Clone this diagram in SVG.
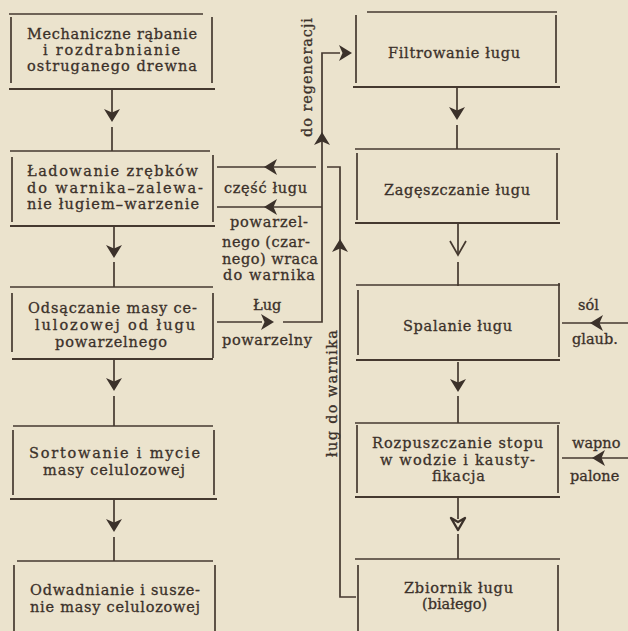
<svg xmlns="http://www.w3.org/2000/svg" xmlns:xlink="http://www.w3.org/1999/xlink" width="628" height="631" viewBox="0 0 628 631">
<style>
  .bg{fill:#ebe3cd}
  .ln{stroke:#45392f;stroke-width:1.7;fill:none;stroke-linecap:butt}
  .hl{stroke:#45392f;stroke-width:2;fill:none}
  .t{font-family:"DejaVu Serif","Liberation Serif",serif;font-size:14.5px;fill:#3b312a;stroke:#3b312a;stroke-width:0.3}
  .ah{fill:#3b312a}
</style>
<defs>
  <path id="ah" d="M0,0 L-8,-13 L0,-9.5 L8,-13 Z"/>
</defs>
<rect class="bg" x="0" y="0" width="628" height="631"/>

<g id="box1">
  <line class="ln" x1="9" y1="14" x2="203" y2="14"/>
  <line class="ln" x1="11" y1="17" x2="11" y2="83"/>
  <line class="ln" x1="212" y1="17" x2="212" y2="83"/>
  <line class="hl" x1="9" y1="89" x2="215" y2="89"/>
  <text class="t" x="27" y="39" textLength="170" lengthAdjust="spacing">Mechaniczne rąbanie</text>
  <text class="t" x="43" y="55" textLength="137" lengthAdjust="spacing">i rozdrabnianie</text>
  <text class="t" x="27" y="71" textLength="170" lengthAdjust="spacing">ostruganego drewna</text>
</g>

<g id="box2">
  <line class="ln" x1="10" y1="151" x2="210" y2="151"/>
  <line class="ln" x1="12" y1="157" x2="12" y2="222"/>
  <line class="ln" x1="213" y1="155" x2="213" y2="222"/>
  <line class="hl" x1="10" y1="226" x2="215" y2="226"/>
  <text class="t" x="27" y="176" textLength="171" lengthAdjust="spacing">Ładowanie zrębków</text>
  <text class="t" x="27" y="193" textLength="176" lengthAdjust="spacing">do warnika–zalewa-</text>
  <text class="t" x="27" y="209" textLength="172" lengthAdjust="spacing">nie ługiem–warzenie</text>
</g>

<g id="box3">
  <line class="ln" x1="10" y1="287" x2="213" y2="287"/>
  <line class="ln" x1="12" y1="293" x2="12" y2="352"/>
  <line class="ln" x1="213" y1="293" x2="213" y2="358"/>
  <line class="hl" x1="12" y1="359" x2="213" y2="359"/>
  <text class="t" x="28" y="313" textLength="169" lengthAdjust="spacing">Odsączanie masy ce-</text>
  <text class="t" x="35" y="330" textLength="160" lengthAdjust="spacing">lulozowej od ługu</text>
  <text class="t" x="55" y="347" textLength="112" lengthAdjust="spacing">powarzelnego</text>
</g>

<g id="box4">
  <line class="ln" x1="13" y1="426" x2="213" y2="426"/>
  <line class="ln" x1="13" y1="430" x2="13" y2="495"/>
  <line class="ln" x1="214" y1="430" x2="214" y2="495"/>
  <line class="hl" x1="10" y1="499" x2="217" y2="499"/>
  <text class="t" x="29" y="458" textLength="171" lengthAdjust="spacing">Sortowanie i mycie</text>
  <text class="t" x="43" y="475" textLength="142" lengthAdjust="spacing">masy celulozowej</text>
</g>

<g id="box5">
  <line class="ln" x1="17" y1="561" x2="213" y2="561"/>
  <line class="ln" x1="14" y1="565" x2="14" y2="631"/>
  <line class="ln" x1="215" y1="565" x2="215" y2="631"/>
  <text class="t" x="30" y="595" textLength="170" lengthAdjust="spacing">Odwadnianie i susze-</text>
  <text class="t" x="30" y="612" textLength="170" lengthAdjust="spacing">nie masy celulozowej</text>
</g>

<g id="boxA">
  <line class="ln" x1="367" y1="12" x2="557" y2="12"/>
  <line class="ln" x1="356" y1="15" x2="356" y2="83"/>
  <line class="ln" x1="556" y1="15" x2="556" y2="83"/>
  <line class="hl" x1="353" y1="87" x2="560" y2="87"/>
  <text class="t" x="388" y="58" textLength="132" lengthAdjust="spacing">Filtrowanie ługu</text>
</g>

<g id="boxB">
  <line class="ln" x1="355" y1="149" x2="560" y2="149"/>
  <line class="ln" x1="357" y1="153" x2="357" y2="220"/>
  <line class="ln" x1="557" y1="153" x2="557" y2="220"/>
  <line class="hl" x1="355" y1="223" x2="560" y2="223"/>
  <text class="t" x="384" y="195" textLength="146" lengthAdjust="spacing">Zagęszczanie ługu</text>
</g>

<g id="boxC">
  <line class="ln" x1="356" y1="285" x2="560" y2="285"/>
  <line class="ln" x1="358" y1="290" x2="358" y2="355"/>
  <line class="ln" x1="559" y1="283" x2="559" y2="357"/>
  <line class="hl" x1="356" y1="360" x2="560" y2="360"/>
  <text class="t" x="403" y="331" textLength="109" lengthAdjust="spacing">Spalanie ługu</text>
</g>

<g id="boxD">
  <line class="ln" x1="355" y1="423" x2="560" y2="423"/>
  <line class="ln" x1="357" y1="425" x2="357" y2="493"/>
  <line class="ln" x1="558" y1="425" x2="558" y2="493"/>
  <line class="hl" x1="355" y1="497" x2="560" y2="497"/>
  <text class="t" x="372" y="448" textLength="171" lengthAdjust="spacing">Rozpuszczanie stopu</text>
  <text class="t" x="380" y="465" textLength="155" lengthAdjust="spacing">w wodzie i kausty-</text>
  <text class="t" x="432" y="481" textLength="53" lengthAdjust="spacing">fikacja</text>
</g>

<g id="boxE">
  <line class="ln" x1="355" y1="559" x2="560" y2="559"/>
  <line class="ln" x1="358" y1="565" x2="358" y2="631"/>
  <line class="ln" x1="558" y1="565" x2="558" y2="631"/>
  <text class="t" x="404" y="593" textLength="109" lengthAdjust="spacing">Zbiornik ługu</text>
  <text class="t" x="422" y="609">(białego)</text>
</g>

<g id="connectors">
  <line class="ln" x1="112" y1="89" x2="112" y2="113"/>
  <use href="#ah" class="ah" transform="translate(112,122)"/>
  <line class="ln" x1="112" y1="127" x2="112" y2="151"/>

  <line class="ln" x1="114" y1="226" x2="114" y2="250"/>
  <use href="#ah" class="ah" transform="translate(114,258)"/>
  <line class="ln" x1="114" y1="262" x2="114" y2="287"/>

  <line class="ln" x1="114" y1="359" x2="114" y2="382"/>
  <use href="#ah" class="ah" transform="translate(114,391)"/>
  <line class="ln" x1="114" y1="396" x2="114" y2="426"/>

  <line class="ln" x1="114" y1="499" x2="114" y2="523"/>
  <use href="#ah" class="ah" transform="translate(114,532)"/>
  <line class="ln" x1="114" y1="537" x2="114" y2="561"/>

  <line class="ln" x1="457" y1="87" x2="457" y2="111"/>
  <use href="#ah" class="ah" transform="translate(457,120)"/>
  <line class="ln" x1="457" y1="125" x2="457" y2="149"/>

  <line class="ln" x1="458" y1="223" x2="458" y2="255"/>
  <path class="ln" d="M450,241 L458,255 L466,241" stroke-width="2"/>
  <line class="ln" x1="458" y1="262" x2="458" y2="286"/>

  <line class="ln" x1="458" y1="362" x2="458" y2="383"/>
  <use href="#ah" class="ah" transform="translate(458,392)"/>
  <line class="ln" x1="458" y1="396" x2="458" y2="423"/>

  <line class="ln" x1="458" y1="497" x2="458" y2="519"/>
  <path d="M458,530 L451,518 L458,522 L465,518 Z" fill="none" stroke="#3b312a" stroke-width="2.4" stroke-linejoin="round"/>
  <line class="ln" x1="458" y1="534" x2="458" y2="559"/>

  <line class="ln" x1="217" y1="322" x2="262" y2="322"/>
  <use href="#ah" class="ah" transform="translate(274,322) rotate(-90)"/>
  <path class="ln" d="M283,322 L322,322 L322,53 L340,53"/>
  <use href="#ah" class="ah" transform="translate(322,132) rotate(180)"/>
  <use href="#ah" class="ah" transform="translate(352,53) rotate(-90)"/>

  <line class="ln" x1="217" y1="207" x2="322" y2="207"/>
  <use href="#ah" class="ah" transform="translate(264,207) rotate(90)"/>

  <line class="ln" x1="217" y1="167" x2="316" y2="167"/>
  <use href="#ah" class="ah" transform="translate(264,167) rotate(90)"/>
  <path class="ln" d="M327,167 L340,167 L340,597 L356,597"/>
  <use href="#ah" class="ah" transform="translate(340,239) rotate(180)"/>

  <line class="ln" x1="562" y1="323" x2="628" y2="323"/>
  <use href="#ah" class="ah" transform="translate(590,323) rotate(90)"/>
  <line class="ln" x1="562" y1="458" x2="628" y2="458"/>
  <use href="#ah" class="ah" transform="translate(592,458) rotate(90)"/>
</g>

<g id="labels">
  <text class="t" transform="translate(312,137) rotate(-90)" textLength="119" lengthAdjust="spacing">do regeneracji</text>
  <text class="t" transform="translate(337,457) rotate(-90)" textLength="127" lengthAdjust="spacing">ług do warnika</text>
  <text class="t" x="224" y="193" textLength="83" lengthAdjust="spacing">część ługu</text>
  <text class="t" x="230" y="227" textLength="78" lengthAdjust="spacing">powarzel-</text>
  <text class="t" x="222" y="247" textLength="88" lengthAdjust="spacing">nego (czar-</text>
  <text class="t" x="222" y="264" textLength="96" lengthAdjust="spacing">nego) wraca</text>
  <text class="t" x="223" y="280" textLength="92" lengthAdjust="spacing">do warnika</text>
  <text class="t" x="253" y="310">Ług</text>
  <text class="t" x="222" y="345" textLength="90" lengthAdjust="spacing">powarzelny</text>
  <text class="t" x="578" y="310">sól</text>
  <text class="t" x="572" y="344">glaub.</text>
  <text class="t" x="572" y="448">wapno</text>
  <text class="t" x="570" y="481">palone</text>
</g>
</svg>
